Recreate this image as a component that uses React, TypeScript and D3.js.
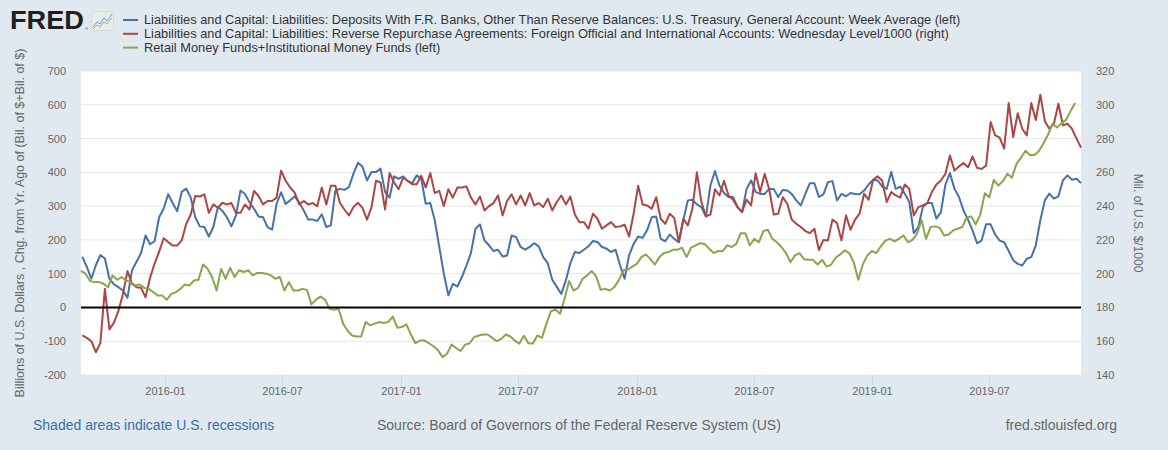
import React from 'react';
import * as d3 from 'd3';

// Weekly: Treasury General Account deposits, week average (left axis, Bil. $)
const blueStart = '2015-08-26';
const blueValues = [
  150, 120, 85, 125, 155, 145, 85, 68, 60, 50,
  29, 110, 135, 161, 213, 187, 196, 267, 292, 335,
  309, 285, 342, 352, 325, 267, 240, 238, 210, 238,
  297, 286, 267, 240, 272, 346, 336, 311, 292, 269,
  267, 238, 230, 307, 341, 306, 317, 329, 311, 287,
  260, 260, 256, 276, 238, 243, 346, 351, 348, 356,
  396, 428, 417, 376, 401, 401, 411, 342, 325, 388,
  381, 388, 374, 368, 391, 381, 307, 309, 258, 179,
  100, 36, 70, 62, 90, 124, 161, 233, 246, 198,
  184, 167, 171, 151, 154, 213, 208, 179, 171, 179,
  190, 181, 149, 131, 82, 61, 40, 80, 131, 164,
  161, 171, 181, 197, 194, 179, 174, 164, 171, 125,
  85, 154, 188, 210, 206, 229, 267, 269, 203, 196,
  216, 203, 193, 258, 317, 319, 305, 297, 269, 361,
  404, 361, 339, 327, 327, 297, 282, 351, 376, 342,
  336, 336, 351, 351, 327, 348, 346, 336, 317, 302,
  336, 368, 368, 327, 335, 371, 374, 317, 336, 329,
  339, 336, 335, 346, 364, 378, 376, 358, 351, 401,
  351, 358, 337, 312, 220, 238, 297, 309, 309, 263,
  282, 364, 398, 351, 327, 287, 260, 228, 190, 198,
  246, 246, 216, 198, 193, 167, 140, 129, 124, 144,
  149, 184, 258, 317, 337, 322, 329, 376, 391, 378, 381, 368,
];

// Weekly: Reverse repos, foreign official accounts, Wednesday level / 1000 (right axis)
const redStart = '2015-08-26';
const redValues = [
  163.4, 162, 160, 153.5, 159, 191, 167, 171, 178, 188,
  201.5, 194, 192, 191.6, 186, 197.6, 206, 213, 221, 218.7,
  216.7, 216.7, 219.7, 229.5, 235, 246, 245.7, 247, 236, 241,
  239, 242, 241, 241.8, 236, 236, 241, 238, 249, 246,
  241, 243, 243, 245, 261, 255, 251, 248, 241, 243,
  241, 241.8, 240, 251, 241, 252, 252, 242, 238, 234.5,
  239.4, 242, 239, 232, 239.4, 255, 254, 238, 259.6, 254,
  250, 256.8, 255, 253, 253, 258, 251, 259.6, 247.7, 249,
  240, 250, 245, 251, 251, 251.7, 245, 241, 245.7, 237.4,
  240, 241.8, 246.3, 234.5, 243, 247, 241, 246.3, 240.4, 247.7,
  240.4, 241.8, 239.4, 244.4, 237.4, 242.4, 246.3, 241, 245.7, 235,
  230.5, 230.5, 226.6, 235.5, 232.5, 226.6, 228.6, 230.5, 227.6, 228,
  229, 222, 235.5, 252, 241, 240.4, 238.4, 245.3, 232.5, 229.5,
  235.5, 233, 218.7, 232.5, 228.6, 238.4, 260, 242.4, 234, 235,
  250, 246.3, 255, 246.3, 243.8, 239.4, 236.5, 243.8, 240.4, 259.5,
  248.3, 259.2, 250, 235, 235.5, 245.3, 241.4, 232, 229.5, 227.6,
  225.2, 224, 226.6, 214, 220, 219.7, 232, 230, 219.7, 234.5,
  226, 232, 235.5, 247.3, 243.8, 255.6, 257.6, 255.2, 242.4, 248.3,
  246.3, 245, 252.8, 250.3, 234.5, 239.4, 240.4, 241.8, 248.3, 252.8,
  255.2, 259.2, 270, 261, 263.5, 265.5, 263, 269.4, 262.7, 262,
  264, 289.8, 281.9, 280.5, 274, 301, 280.9, 295, 285.8, 281.9,
  301, 291, 306, 290.3, 285.8, 288.8, 300.6, 287.8, 288.8, 285.8, 280, 274.6,
];

// Weekly: Retail + institutional money funds, change from year ago (left axis)
const greenStart = '2015-08-24';
const greenValues = [
  108, 100, 78, 75, 75, 70, 60, 95, 82, 90,
  80, 75, 65, 68, 58, 55, 45, 35, 35, 23,
  40, 45, 55, 68, 65, 80, 82, 127, 115, 90,
  50, 114, 85, 117, 90, 110, 105, 110, 95, 102,
  102, 100, 95, 85, 90, 50, 75, 50, 50, 55,
  52, 9, 23, 32, 23, -4, -7, -4, -48, -69,
  -83, -86, -86, -43, -53, -48, -43, -46, -43, -27,
  -60, -58, -50, -80, -106, -98, -98, -106, -115, -127,
  -147, -137, -110, -120, -129, -110, -106, -88, -83, -80,
  -80, -90, -100, -93, -80, -86, -98, -107, -84, -106,
  -107, -83, -90, -48, -11, -7, -19, 26, 78, 50,
  58, 85, 95, 108, 92, 52, 55, 50, 60, 80,
  110, 112, 121, 129, 149, 157, 143, 127, 149, 161,
  164, 171, 171, 177, 149, 177, 184, 190, 188, 174,
  161, 167, 167, 184, 179, 188, 220, 220, 184, 203,
  193, 226, 230, 203, 193, 179, 161, 134, 154, 161,
  143, 141, 141, 127, 141, 121, 127, 147, 157, 169,
  161, 134, 82, 127, 154, 167, 161, 181, 198, 203,
  196, 203, 213, 193, 200, 218, 258, 203, 238, 240,
  236, 213, 216, 228, 233, 238, 267, 269, 246, 275,
  338, 326, 378, 361, 374, 396, 384, 425, 443, 464,
  451, 451, 464, 486, 512, 544, 533, 545, 556, 582, 605,
];

const xDomain = ['2015-08-24', '2019-11-20'];
const xTickLabels = ['2016-01', '2016-07', '2017-01', '2017-07', '2018-01', '2018-07', '2019-01', '2019-07'];
const leftTicks = [-200, -100, 0, 100, 200, 300, 400, 500, 600, 700];
const rightTicks = [140, 160, 180, 200, 220, 240, 260, 280, 300, 320];

const legendItems = [
  { label: 'Liabilities and Capital: Liabilities: Deposits With F.R. Banks, Other Than Reserve Balances: U.S. Treasury, General Account: Week Average (left)', color: '#4572a7' },
  { label: 'Liabilities and Capital: Liabilities: Reverse Repurchase Agreements: Foreign Official and International Accounts: Wednesday Level/1000 (right)', color: '#aa4643' },
  { label: 'Retail Money Funds+Institutional Money Funds (left)', color: '#89a54e' },
];

const leftTitle = 'Billions of U.S. Dollars , Chg. from Yr. Ago of (Bil. of $+Bil. of $)';
const rightTitle = 'Mil. of U.S. $/1000';

const FONT = '"Liberation Sans", Arial, Helvetica, sans-serif';

export default function App() {
  const W = 1168;
  const H = 450;
  const L = 81, R = 1081, T = 71, B = 375;
  const parse = d3.utcParse('%Y-%m-%d');
  const parseM = d3.utcParse('%Y-%m');
  const x = d3.scaleUtc().domain(xDomain.map((d) => parse(d) as Date)).range([L, R]);
  const yL = d3.scaleLinear().domain([-200, 700]).range([B, T]);
  const yR = d3.scaleLinear().domain([140, 320]).range([B, T]);

  const weekly = (start: string, vals: number[]) =>
    vals.map((v, i) => ({ date: d3.utcDay.offset(parse(start) as Date, 7 * i), v }));

  const lineL = d3.line<{ date: Date; v: number }>().x((d) => x(d.date)).y((d) => yL(d.v));
  const lineR = d3.line<{ date: Date; v: number }>().x((d) => x(d.date)).y((d) => yR(d.v));

  const blue = weekly(blueStart, blueValues);
  const red = weekly(redStart, redValues);
  const green = weekly(greenStart, greenValues);

  return (
    <svg width={W} height={H} style={{ position: 'absolute', left: 0, top: 0, display: 'block' }} fontFamily={FONT}>
      <rect x={0} y={0} width={W} height={H} fill="#e1e9f0" />
      {/* FRED logo */}
      <text x={10} y={29} fontSize={26} fontWeight="bold" fill="#231f20" textLength={74} lengthAdjust="spacingAndGlyphs">FRED</text>
      <text x={85} y={30} fontSize={4} fill="#231f20">®</text>
      <g>
        <rect x={91.5} y={11.5} width={22} height={19} rx={2} fill="#e8ecec" stroke="#d6dcdc" />
        <polyline points="93,27 97,22 100,24 104,18 107,21 112,14" fill="none" stroke="#6f9bc8" strokeWidth={1} />
        <polyline points="93,29 97,25 100,27 104,22 107,24 112,18" fill="none" stroke="#9bbf6a" strokeWidth={1} />
      </g>
      {/* Legend */}
      {legendItems.map((it, i) => (
        <g key={i}>
          <line x1={123} x2={138} y1={20 + i * 13.8} y2={20 + i * 13.8} stroke={it.color} strokeWidth={2} />
          <text x={144} y={24.4 + i * 13.8} fontSize={12.8} fill="#333333">{it.label}</text>
        </g>
      ))}
      {/* Plot area */}
      <rect x={L} y={T} width={R - L} height={B - T} fill="#ffffff" />
      {leftTicks.map((t) => (
        <line key={'g' + t} x1={L} x2={R} y1={yL(t)} y2={yL(t)} stroke="#e6e6e6" strokeWidth={1} />
      ))}
      {xTickLabels.map((t) => {
        const xx = Math.round(x(parseM(t) as Date)) + 0.5;
        return (
          <g key={t}>
            <line x1={xx} x2={xx} y1={B} y2={B + 10} stroke="#ccd6eb" strokeWidth={1} />
            <text x={xx} y={395} fontSize={11} fill="#666666" textAnchor="middle">{t}</text>
          </g>
        );
      })}
      {leftTicks.map((t) => (
        <text key={'l' + t} x={66} y={yL(t) + 4} fontSize={11} fill="#666666" textAnchor="end">{t}</text>
      ))}
      {rightTicks.map((t) => (
        <text key={'r' + t} x={1096} y={yR(t) + 4} fontSize={11} fill="#666666" textAnchor="start">{t}</text>
      ))}
      <text transform={`translate(20,${(T + B) / 2}) rotate(-90)`} fontSize={12.5} fill="#666666" textAnchor="middle" dominantBaseline="central">{leftTitle}</text>
      <text transform={`translate(1138,${(T + B) / 2}) rotate(90)`} fontSize={12} fill="#666666" textAnchor="middle" dominantBaseline="central">{rightTitle}</text>
      {/* Series */}
      <path d={lineL(blue) || ''} fill="none" stroke="#4572a7" strokeWidth={2} strokeLinejoin="round" />
      <path d={lineR(red) || ''} fill="none" stroke="#aa4643" strokeWidth={2} strokeLinejoin="round" />
      <path d={lineL(green) || ''} fill="none" stroke="#89a54e" strokeWidth={2} strokeLinejoin="round" />
      {/* Zero line */}
      <line x1={L} x2={R} y1={yL(0)} y2={yL(0)} stroke="#000000" strokeWidth={2} />
      {/* Footer */}
      <text x={33} y={430} fontSize={14} fill="#3b6ea5">Shaded areas indicate U.S. recessions</text>
      <text x={377} y={430} fontSize={14} fill="#666666">Source: Board of Governors of the Federal Reserve System (US)</text>
      <text x={1117} y={430} fontSize={14} fill="#666666" textAnchor="end">fred.stlouisfed.org</text>
    </svg>
  );
}
